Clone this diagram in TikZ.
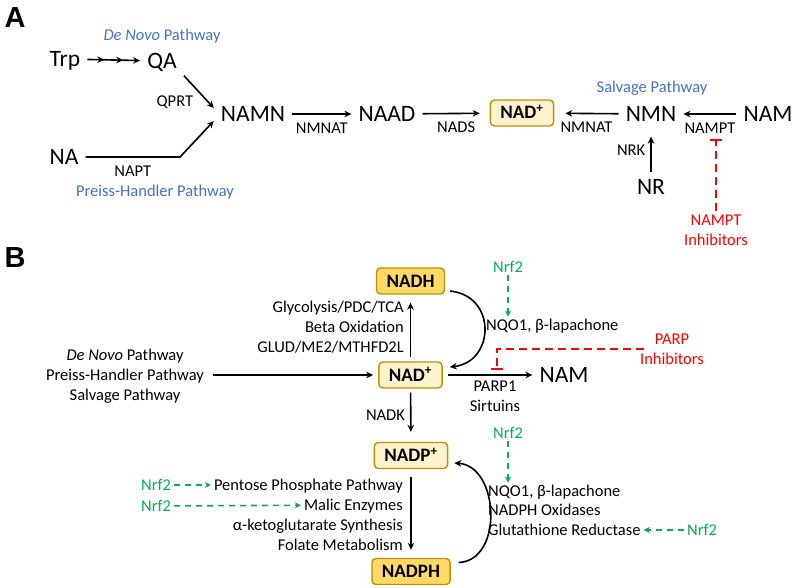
\documentclass[tikz,border=0pt]{standalone}
\usepackage{fontspec}
\setmainfont{Carlito}
\newfontfamily\panelfont{Liberation Sans}
\usepackage{tikz}
\usetikzlibrary{arrows.meta,decorations.markings,positioning}
\definecolor{pathblue}{RGB}{68,114,196}
\definecolor{nrfgreen}{RGB}{0,176,80}
\definecolor{inhred}{RGB}{255,0,0}
\definecolor{boxedge}{RGB}{191,144,0}
\definecolor{oxfill}{RGB}{255,242,204}
\definecolor{redfill}{RGB}{255,217,102}
\tikzset{
>={Stealth[length=7pt,width=6.5pt]}, % small filled arrow heads
flow/.style={->, line width=1.6pt}, % black reaction arrows
steps/.style={postaction={decorate}, decoration={markings, mark=at position .32 with {\arrow{>}}, mark=at position .68 with {\arrow{>}}}}, % several steps in one arrow
big/.style={font=\fontsize{23.5}{26}\selectfont, text height=14.9pt, text depth=0pt, inner sep=7pt}, % metabolites
lab/.style={font=\fontsize{16.5}{20}\selectfont, text height=10.4pt, text depth=0pt, inner sep=3pt}, % enzymes and one-line texts
multi/.style={font=\fontsize{16.5}{20}\selectfont, inner sep=3pt, anchor=base}, % stacked texts, placed at the last line
pathname/.style={lab, text=pathblue},
nrf/.style={lab, text=nrfgreen},
inh/.style={multi, align=center, text=inhred},
panel/.style={font=\panelfont\bfseries\fontsize{29}{30}\selectfont, text height=20.8pt, text depth=0pt, inner sep=0pt},
ox/.style={draw=boxedge, line width=1.4pt, rounded corners=4pt, fill=oxfill, font=\bfseries\fontsize{19}{20}\selectfont, text height=12pt, text depth=0pt, inner xsep=10pt, inner ysep=7pt}, % oxidised form
red/.style={ox, fill=redfill}, % reduced form
activate/.style={draw=nrfgreen, line width=1.6pt, dash pattern=on 6pt off 5pt, -{Stealth[length=6pt,width=6pt]}},
inhibit/.style={draw=inhred, line width=2pt, dash pattern=on 8pt off 5pt, -{Bar[width=12pt]}},
}

\begin{document}
\begin{tikzpicture}[x=1pt, y=-1pt]
\useasboundingbox (0,0) rectangle (800,588);

\node[panel] (pA) at (15,17) {A};
\node[big] (Trp) at (65,59) {Trp};
\node[big] (QA) at (162,61) {QA};
\node[big] (NAMN) at (253,114) {NAMN};
\node[big] (NA) at (64,157) {NA};
\node[big] (NAAD) at (387,114) {NAAD};
\node[ox] (NADa) at (522,113) {NAD\textsuperscript{+}};
\node[big] (NMN) at (651,114) {NMN};
\node[big] (NAMa) at (768,114) {NAM};
\node[big] (NR) at (651,187) {NR};
\node[pathname] (denovo) at (162,35) {\textit{De Novo} Pathway};
\node[pathname] (preiss) at (155,191) {Preiss-Handler Pathway};
\node[pathname] (salvage) at (652,87) {Salvage Pathway};
\node[inh] (namptinh) at (716,245) {NAMPT\\Inhibitors};
\coordinate (napt) at (180,157);
\coordinate (namptT) at (716,139);

\draw[flow, steps] (Trp) -- (QA);
\draw[flow] (QA.south east) -- node[lab, xshift=-24pt, yshift=-9pt] {QPRT} ([yshift=6pt]NAMN.west);
\draw[flow] (NA) -- node[lab, below=5pt] {NAPT} (napt) -- ([yshift=-7pt]NAMN.west);
\draw[flow]
(NAMN) edge node[lab, below=5pt] {NMNAT} (NAAD)
(NAAD) edge[shorten >=10pt] node[lab, below=5pt] {NADS} (NADa)
(NMN) edge[shorten >=11pt] node[lab, below=5pt] {NMNAT} (NADa)
(NAMa) edge node[lab, below=5pt] {NAMPT} (NMN)
(NR) edge[shorten >=8pt] node[lab, left=2pt] {NRK} (NMN)
;
\draw[inhibit] (namptinh.north) -- (namptT);

\node[panel] (pB) at (15,257) {B};
\node[red] (NADH) at (410.5,281) {NADH};
\node[ox] (NADb) at (410.5,375) {NAD\textsuperscript{+}};
\node[ox] (NADP) at (411,455.5) {NADP\textsuperscript{+}};
\node[red] (NADPH) at (411,571.5) {NADPH};
\node[big] (NAMb) at (564,375) {NAM};
\node[multi, align=right, anchor=base east] (gly) at (407,352) {Glycolysis/PDC/TCA\\Beta Oxidation\\GLUD/ME2/MTHFD2L};
\node[multi, align=center] (routes) at (125,400) {\textit{De Novo} Pathway\\Preiss-Handler Pathway\\Salvage Pathway};
\node[multi, align=center] (parp) at (495,411) {PARP1\\Sirtuins};
\node[inh] (parpinh) at (672,364) {PARP\\Inhibitors};
\coordinate (parpT) at (497,370);
\node[nrf] (nrfA) at (508,267) {Nrf2};
\node[lab, anchor=west] (nqoA) at (483,325) {NQO1, β-lapachone};
\node[lab, anchor=east] (ppp) at (406,485) {Pentose Phosphate Pathway};
\node[lab, anchor=east] (malic) at (406,505) {Malic Enzymes};
\node[lab, anchor=east] (akg) at (406,525) {α-ketoglutarate Synthesis};
\node[lab, anchor=east] (folate) at (406,545) {Folate Metabolism};
\node[nrf] (nrfB) at (156,485) {Nrf2};
\node[nrf] (nrfC) at (156,506) {Nrf2};
\node[nrf] (nrfD) at (508,433) {Nrf2};
\node[lab, anchor=west] (nqoB) at (485,491) {NQO1, β-lapachone};
\node[lab, anchor=west] (nox) at (485,510) {NADPH Oxidases};
\node[lab, anchor=west] (gr) at (485,530) {Glutathione Reductase};
\node[nrf] (nrfE) at (702,530) {Nrf2};

\draw[flow, shorten <=6pt, shorten >=5pt] (routes.east |- NADb.west) -- (NADb.west);
\draw[flow]
(NADb) edge[shorten <=4pt, shorten >=8pt] (NADH)
(NADb) edge[shorten <=4pt, shorten >=10pt] node[lab, left=2pt] {NADK} (NADP)
(NADP) edge[shorten <=8pt, shorten >=8pt] (NADPH)
(NADb) edge[shorten <=5pt] (NAMb)
;
\draw[flow] ([xshift=5pt,yshift=-10pt]NADH.east) .. controls +(47,5) and +(45,-5) .. ([xshift=7pt,yshift=8pt]NADb.east);
\draw[flow] ([xshift=8pt,yshift=9pt]NADPH.east) .. controls +(45,-2) and +(45,3) .. ([xshift=6pt,yshift=-7.5pt]NADP.east);
\draw[inhibit] ([xshift=7pt]parpinh.west) -| (parpT);
\draw[activate] (nrfA) -- (nrfA |- nqoA.north);
\draw[activate] (nrfD) -- (nrfD |- nqoB.north);
\draw[activate] (nrfB) -- (ppp);
\draw[activate] (nrfC) -- (malic);
\draw[activate] (nrfE) -- (gr);
\end{tikzpicture}
\end{document}
